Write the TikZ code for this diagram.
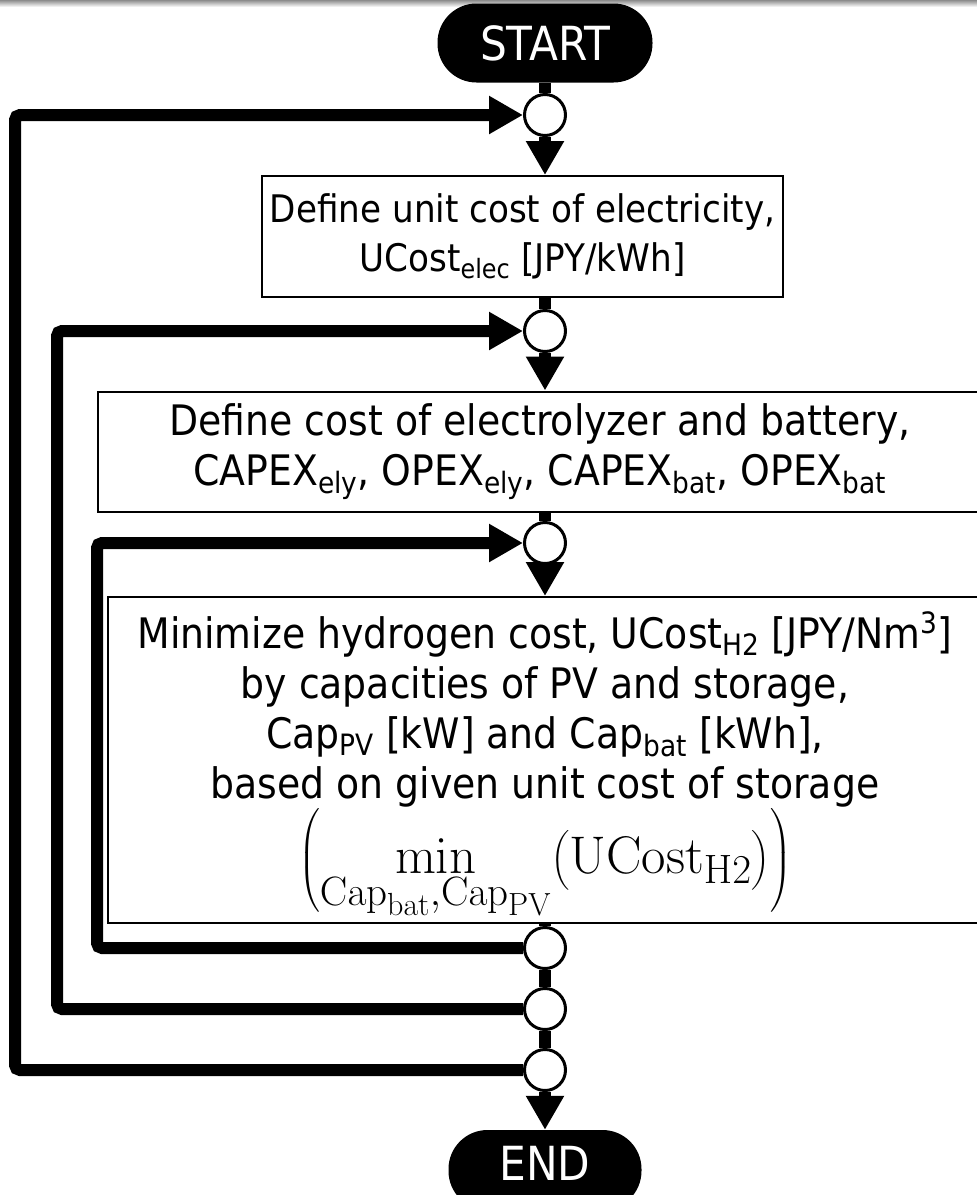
\RequirePackage{fix-cm}
\documentclass[tikz,border=0pt]{standalone}
\usepackage{amsmath}
\usepackage[no-math]{fontspec}
\setmainfont{DejaVu Sans Condensed}
\DeclareMathSizes{53}{53}{41}{32}
\usetikzlibrary{arrows.meta,calc}
\tikzset{
  box/.style={draw, line width=2pt, fill=white, align=center, inner sep=0pt},
  term/.style={fill=black, text=white, rounded corners=39pt, inner sep=0pt,
    font=\fontsize{47}{50}\selectfont},
  junc/.style={circle, draw, line width=3pt, fill=white, minimum size=41pt, inner sep=0pt},
  flow/.style={line width=12pt},
  arr/.style={line width=12pt, -{Triangle[width=36pt,length=34pt]}},
  loopline/.style={line width=12pt, rounded corners=5pt, -{Triangle[width=36pt,length=34pt]}},
}
\begin{document}
\begin{tikzpicture}[x=1pt,y=-1pt]
\useasboundingbox (0,0) rectangle (977,1195);
\clip (0,0) rectangle (977,1195);
\shade[top color=black!45, bottom color=white] (0,0) rectangle (977,7);

\node[term, minimum width=215pt, minimum height=79pt] (start) at (545,43) {START};
\node[junc] (c1) at (545,115) {};
\node[box, minimum width=521pt, minimum height=121pt, font=\fontsize{38}{49}\selectfont] (b1) at (522.5,236.5)
  {Define unit cost of electricity,\\ UCost\textsubscript{elec} [JPY/kWh]};
\node[junc] (c2) at (545,331) {};
\node[box, minimum width=884pt, minimum height=120pt, font=\fontsize{42}{50}\selectfont] (b2) at (540,451.5)
  {Define cost of electrolyzer and battery,\\ CAPEX\textsubscript{ely}, OPEX\textsubscript{ely}, CAPEX\textsubscript{bat}, OPEX\textsubscript{bat}};
\node[junc] (c3) at (545,543) {};
\node[box, minimum width=874pt, minimum height=326pt] (b3) at (545,760) {};
\node[align=center, inner sep=0pt, anchor=north, font=\fontsize{42}{50}\selectfont] (t3) at ([yshift=-15pt]b3.north)
  {Minimize hydrogen cost, UCost\textsubscript{H2} [JPY/Nm\textsuperscript{3}]\\
   by capacities of PV and storage,\\
   Cap\textsubscript{PV} [kW] and Cap\textsubscript{bat} [kWh],\\
   based on given unit cost of storage\\
   {\fontsize{53}{55}\selectfont$\displaystyle\Bigl(\min_{\mathrm{Cap}_{\mathrm{bat}},\mathrm{Cap}_{\mathrm{PV}}}\bigl(\mathrm{UCost}_{\mathrm{H2}}\bigr)\Bigr)$}};
\node[junc] (c4) at (545,948) {};
\node[junc] (c5) at (545,1009) {};
\node[junc] (c6) at (545,1070) {};
\node[term, minimum width=193pt, minimum height=80pt, text depth=14pt] (endn) at (545,1170) {END};

\coordinate (L1) at (15,600);
\coordinate (L2) at (57,600);
\coordinate (L3) at (97,750);

\draw[flow] (start.south) -- (c1.north);
\draw[arr] (c1.south) -- (c1.south |- b1.north);
\draw[flow] (b1.south -| c1) -- (c2.north);
\draw[arr] (c2.south) -- (c2.south |- b2.north);
\draw[flow] (b2.south -| c2) -- (c3.north);
\draw[arr] (c3.south) -- (c3.south |- b3.north);
\draw[flow] (b3.south -| c3) -- (c4.north);
\draw[flow] (c4.south) -- (c5.north);
\draw[flow] (c5.south) -- (c6.north);
\draw[arr] (c6.south) -- (endn.north);

\draw[loopline] (c6.west) -| (L1) |- (c1.west);
\draw[loopline] (c5.west) -| (L2) |- (c2.west);
\draw[loopline] (c4.west) -| (L3) |- (c3.west);
\end{tikzpicture}
\end{document}
